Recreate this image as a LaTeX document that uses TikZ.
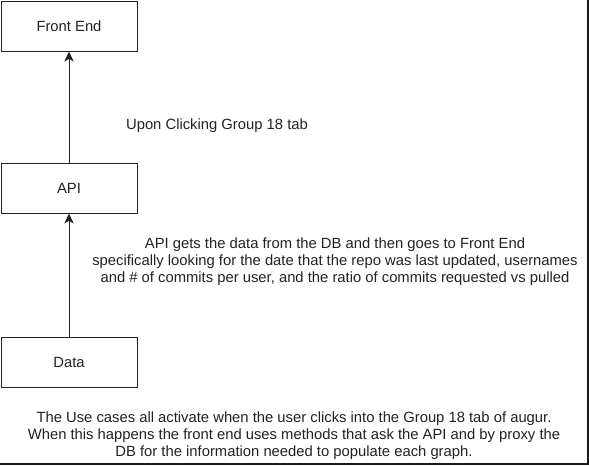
\documentclass[tikz,border=0pt]{standalone}
\usepackage{fontspec}
\setmainfont{Liberation Sans}
\usetikzlibrary{arrows.meta}
\definecolor{ink}{HTML}{222222}
\definecolor{frame}{HTML}{1A1A1A}
\tikzset{
  px/.style={x=0.75pt,y=-0.75pt},
  boxline/.style={draw=ink,line width=0.75pt},
  conn/.style={draw=ink,line width=0.75pt,-{Stealth[length=7.5pt,width=7pt,inset=2pt]}},
  lbl/.style={text=ink,font=\fontsize{11.1}{12.75}\selectfont,align=center,inner sep=0pt},
  boxnode/.style={boxline,lbl,minimum width=102pt,minimum height=37.5pt,anchor=north west}
}
\begin{document}
\begin{tikzpicture}[px]
\useasboundingbox (0,0) rectangle (589,465);
\fill[frame] (587,0) rectangle (589,465);
\fill[frame] (0,462.5) rectangle (589,465);
\node[boxnode] (fe) at (0.5,0.5) {Front End};
\node[boxnode] (api) at (0.5,162.5) {API};
\node[boxnode] (data) at (0.5,337) {Data};
\draw[conn] (data) -- (api);
\draw[conn] (api) -- (fe);
\node[lbl] (t1) at (217,126) {Upon Clicking Group 18 tab};
\node[lbl] (t2) at (335,262) {API gets the data from the DB and then goes to Front End\\specifically looking for the date that the repo was last updated, usernames\\and \# of commits per user, and the ratio of commits requested vs pulled};
\node[lbl] (t3) at (294,436) {The Use cases all activate when the user clicks into the Group 18 tab of augur.\\When this happens the front end uses methods that ask the API and by proxy the\\DB for the information needed to populate each graph.};
\end{tikzpicture}
\end{document}
